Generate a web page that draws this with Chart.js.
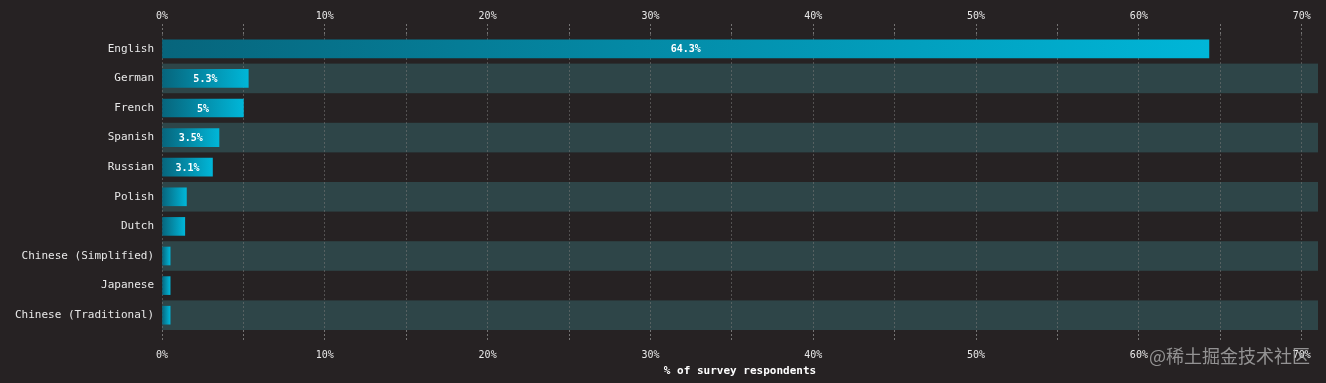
<!DOCTYPE html>
<html>
<head>
<meta charset="utf-8">
<script src="https://cdn.jsdelivr.net/npm/chart.js@4.4.1/dist/chart.umd.min.js"></script>
<style>
html,body{margin:0;padding:0;background:#262223;}
#wrap{position:relative;width:1326px;height:383px;}
canvas{display:block;}
#wm{position:absolute;left:1149px;top:342px;font:18px "Noto Sans CJK SC",sans-serif;color:rgba(175,175,175,0.8);white-space:nowrap;}
</style>
</head>
<body>
<div id="wrap"><canvas id="c" width="1326" height="383"></canvas><div id="wm">@稀土掘金技术社区</div></div>
<script>
const categories = ["English","German","French","Spanish","Russian","Polish","Dutch","Chinese (Simplified)","Japanese","Chinese (Traditional)"];
const values = [64.3, 5.3, 5, 3.5, 3.1, 1.5, 1.4, 0.5, 0.5, 0.5];
const tickValues = [0,5,10,15,20,25,30,35,40,45,50,55,60,65,70];
const axisTitle = "% of survey respondents";
const xMax = 71;

const MONO = '"DejaVu Sans Mono", monospace';
const bandPlugin = {
  id: 'bands',
  beforeDraw(chart){
    const {ctx, chartArea, scales:{y}} = chart;
    ctx.save();
    ctx.fillStyle = '#2e4548';
    categories.forEach((c,i)=>{
      if(i%2===1){
        const yc = y.getPixelForValue(i);
        const h = chartArea.height / categories.length;
        ctx.fillRect(chartArea.left, yc - h/2, chartArea.right - chartArea.left, h);
      }
    });
    ctx.restore();
  }
};
const labelPlugin = {
  id: 'vlabels',
  afterDatasetsDraw(chart){
    const {ctx} = chart;
    const meta = chart.getDatasetMeta(0);
    ctx.save();
    ctx.font = 'bold 10px ' + MONO;
    ctx.fillStyle = '#ffffff';
    ctx.textAlign = 'center';
    ctx.textBaseline = 'middle';
    meta.data.forEach((bar,i)=>{
      const v = values[i];
      if(v >= 3){
        ctx.fillText(v + '%', (bar.base + bar.x)/2, bar.y + 1);
      }
    });
    ctx.restore();
  }
};

const tickCb = v => (v % 10 === 0 ? v + '%' : '');
const gridCfg = {
  color: 'rgba(120,120,120,0.55)',
  tickColor: 'rgba(150,150,150,0.7)',
  tickLength: 10,
  tickBorderDash: [2,2],
  lineWidth: 1
};

new Chart(document.getElementById('c'), {
  type: 'bar',
  data: {
    labels: categories,
    datasets: [{
      data: values,
      barThickness: 18,
      borderWidth: 0,
      backgroundColor(ctx){
        const chart = ctx.chart;
        if(!chart.chartArea) return '#00a5c6';
        const xs = chart.scales.x;
        const x0 = xs.getPixelForValue(0);
        const x1 = xs.getPixelForValue(ctx.raw);
        const g = chart.ctx.createLinearGradient(x0, 0, Math.max(x1, x0+1), 0);
        g.addColorStop(0, '#07657c');
        g.addColorStop(1, '#00b6d8');
        return g;
      }
    }]
  },
  options: {
    indexAxis: 'y',
    responsive: false,
    animation: false,
    layout: {padding: {left: 0, right: 8, top: 0, bottom: 0}},
    plugins: {legend: {display: false}, tooltip: {enabled: false}},
    scales: {
      x: {
        position: 'bottom',
        min: 0, max: xMax,
        afterBuildTicks(s){ s.ticks = tickValues.map(v=>({value:v})); },
        ticks: {callback: tickCb, color: '#e8e8e8', font: {family: MONO, size: 10}, padding: 9, maxRotation: 0, autoSkip: false},
        grid: gridCfg,
        border: {display: false, dash: [2,2]},
        title: {display: true, text: axisTitle, color: '#ffffff', font: {family: MONO, size: 11, weight: 'bold'}, padding: {top: 4, bottom: 5}},
        afterFit(s){ s.height = 53; }
      },
      x2: {
        position: 'top',
        min: 0, max: xMax,
        afterBuildTicks(s){ s.ticks = tickValues.map(v=>({value:v})); },
        ticks: {callback: tickCb, color: '#e8e8e8', font: {family: MONO, size: 10}, padding: 2, maxRotation: 0, autoSkip: false},
        grid: Object.assign({}, gridCfg, {drawOnChartArea: false}),
        border: {display: false, dash: [2,2]},
        afterFit(s){ s.height = 34; }
      },
      y: {
        ticks: {color: '#e8e8e8', font: {family: MONO, size: 11}, padding: 8},
        grid: {display: false, drawTicks: false},
        border: {display: false},
        afterFit(s){ s.width = 162; }
      }
    }
  },
  plugins: [bandPlugin, labelPlugin]
});
</script>
</body>
</html>
